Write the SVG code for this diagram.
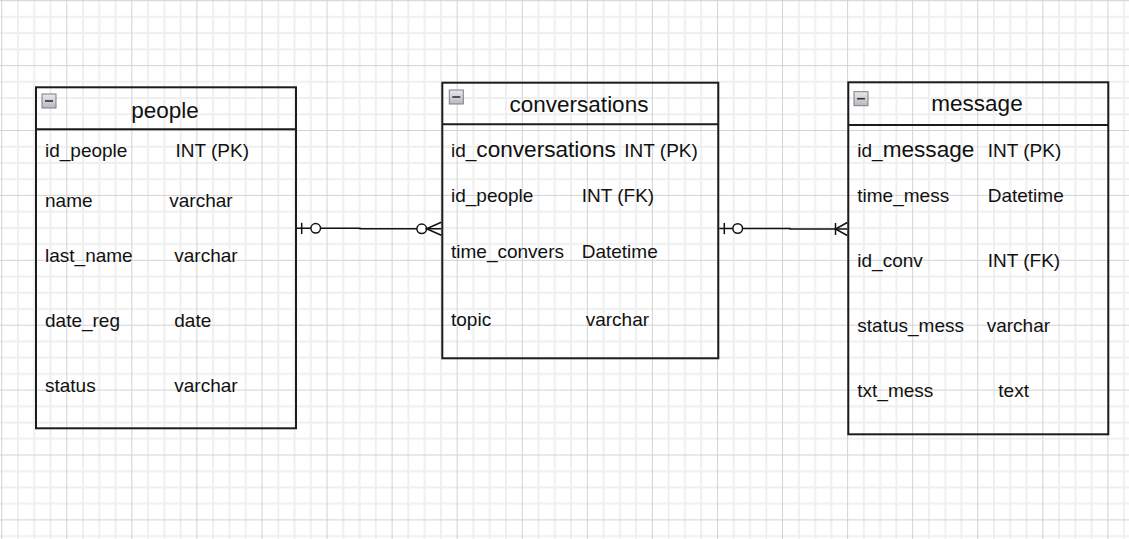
<svg xmlns="http://www.w3.org/2000/svg" width="1129" height="539" viewBox="0 0 1129 539">
<style>
.box{fill:none;stroke:#1c1c1c;stroke-width:2}
.title{font-family:"Liberation Sans",Arial,sans-serif;font-size:22.5px;fill:#111;text-anchor:middle}
.t{font-family:"Liberation Sans",Arial,sans-serif;font-size:19px;fill:#111}
.big{font-size:22.6px}
.icon{fill:url(#ig);stroke:#7d7d88;stroke-width:1}
.minus{stroke:#333;stroke-width:1.6}
.conn{fill:none;stroke:#111;stroke-width:1.5}
.circ{fill:#fff;stroke:#111;stroke-width:1.5}
</style>
<defs>
<linearGradient id="ig" x1="0" y1="0" x2="0" y2="1">
<stop offset="0" stop-color="#e8e8ec"/>
<stop offset="1" stop-color="#b8b8c0"/>
</linearGradient>
<pattern id="grid" x="1.2" y="0.2" width="65.07" height="64.9" patternUnits="userSpaceOnUse">
<path d="M16.77 0V64.9M33.03 0V64.9M49.3 0V64.9M0 16.725H65.07M0 32.95H65.07M0 49.175H65.07" stroke="#efefef" stroke-width="2"/>
<path d="M0.5 0V64.9M0 0.5H65.07" stroke="#d2d2d2" stroke-width="1"/>
</pattern>
</defs>
<rect width="1129" height="539" fill="#fff"/>
<rect width="1129" height="539" fill="url(#grid)"/>

<g id="people">
<rect class="box" x="36" y="87.3" width="260" height="341"/>
<line class="box" x1="36" y1="129.3" x2="296" y2="129.3"/>
<rect class="icon" x="42" y="94" width="14" height="14"/>
<line class="minus" x1="45" y1="101" x2="53" y2="101"/>
<text class="title" x="165" y="118.3">people</text>
<text class="t" x="45" y="157.3">id_people</text><text class="t" x="175.5" y="157.3">INT (PK)</text>
<text class="t" x="45" y="206.7">name</text><text class="t" x="169.3" y="206.7">varchar</text>
<text class="t" x="45" y="261.7">last_name</text><text class="t" x="174.3" y="261.7">varchar</text>
<text class="t" x="45" y="326.7">date_reg</text><text class="t" x="174.3" y="326.7">date</text>
<text class="t" x="45" y="391.7">status</text><text class="t" x="174.3" y="391.7">varchar</text>
</g>

<g id="conversations">
<rect class="box" x="442.3" y="82.7" width="276" height="275.6"/>
<line class="box" x1="442.3" y1="124.3" x2="718.3" y2="124.3"/>
<rect class="icon" x="449.3" y="90" width="14" height="14"/>
<line class="minus" x1="452.3" y1="97" x2="460.3" y2="97"/>
<text class="title" x="579" y="111.7">conversations</text>
<text class="t" x="451" y="156.7">id_<tspan class="big">conversations</tspan></text><text class="t" x="624.3" y="156.7">INT (PK)</text>
<text class="t" x="451" y="201.7">id_people</text><text class="t" x="581.7" y="201.7">INT (FK)</text>
<text class="t" x="451" y="257.7">time_convers</text><text class="t" x="581.7" y="257.7">Datetime</text>
<text class="t" x="451" y="325.7">topic</text><text class="t" x="585.7" y="325.7">varchar</text>
</g>

<g id="message">
<rect class="box" x="848.3" y="82.3" width="260" height="352"/>
<line class="box" x1="848.3" y1="125" x2="1108.3" y2="125"/>
<rect class="icon" x="854" y="91.7" width="14" height="14"/>
<line class="minus" x1="857" y1="98.7" x2="865" y2="98.7"/>
<text class="title" x="977" y="111">message</text>
<text class="t" x="857.3" y="156.7">id_<tspan class="big">message</tspan></text><text class="t" x="987.7" y="156.7">INT (PK)</text>
<text class="t" x="857.3" y="201.7">time_mess</text><text class="t" x="987.7" y="201.7">Datetime</text>
<text class="t" x="857.3" y="266.7">id_conv</text><text class="t" x="987.7" y="266.7">INT (FK)</text>
<text class="t" x="857.3" y="331.7">status_mess</text><text class="t" x="986.7" y="331.7">varchar</text>
<text class="t" x="857.3" y="396.7">txt_mess</text><text class="t" x="998.3" y="396.7">text</text>
</g>

<g id="connectors">
<g id="people-conversations">
<path class="conn" d="M297 228.3H360V228.8H441.3"/>
<line class="conn" x1="301.7" y1="222.8" x2="301.7" y2="234"/>
<circle class="circ" cx="315.7" cy="228.3" r="4.8"/>
<circle class="circ" cx="421.7" cy="228.8" r="4.8"/>
<path class="conn" d="M441.3 222.3L426.5 228.8L441.3 235.3"/>
</g>
<g id="conversations-message">
<path class="conn" d="M719.3 228.5H790V229H847.3"/>
<line class="conn" x1="724.3" y1="223" x2="724.3" y2="234.2"/>
<circle class="circ" cx="737.7" cy="228.5" r="4.8"/>
<line class="conn" x1="835.5" y1="223" x2="835.5" y2="235"/>
<path class="conn" d="M847.3 222.5L835.5 229L847.3 235.5"/>
</g>
</g>
</svg>
